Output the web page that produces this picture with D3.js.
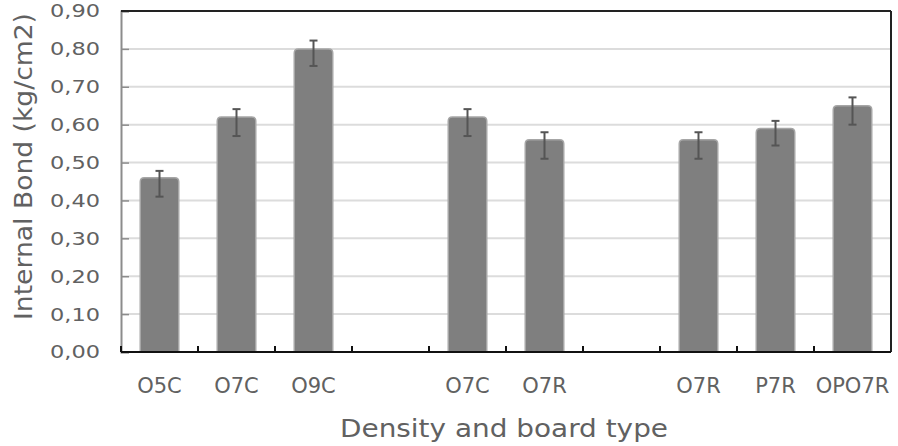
<!DOCTYPE html>
<html>
<head>
<meta charset="utf-8">
<script src="https://cdn.jsdelivr.net/npm/d3@7"></script>
<style>
  body { margin: 0; background: #fff; }
  svg { font-family: "DejaVu Sans", Verdana, sans-serif; }
</style>
</head>
<body>
<svg id="chart" width="898" height="446"></svg>
<script>
// Chart data (empty slots separate the groups)
const slots = ['s0', 's1', 's2', 's3', 's4', 's5', 's6', 's7', 's8', 's9'];
const labels = ['O5C', 'O7C', 'O9C', '', 'O7C', 'O7R', '', 'O7R', 'P7R', 'OPO7R'];
const values = [0.46, 0.62, 0.80, null, 0.62, 0.56, null, 0.56, 0.59, 0.65];
const errHigh = [0.478, 0.641, 0.822, null, 0.641, 0.58, null, 0.58, 0.61, 0.672];
const errLow = [0.41, 0.57, 0.755, null, 0.57, 0.51, null, 0.51, 0.545, 0.60];
const yTicks = [0, 0.1, 0.2, 0.3, 0.4, 0.5, 0.6, 0.7, 0.8, 0.9];

const margin = { top: 11, right: 7, bottom: 94, left: 121 };
const width = 898 - margin.left - margin.right;
const height = 446 - margin.top - margin.bottom;
const textColor = '#616161';

const svg = d3.select('#chart');
const g = svg.append('g').attr('transform', `translate(${margin.left},${margin.top})`);

const x = d3.scaleBand().domain(slots).range([0, width]).paddingInner(0).paddingOuter(0);
const y = d3.scaleLinear().domain([0, 0.9]).range([height, 0]);

const fmt = v => d3.format('.2f')(v).replace('.', ',');

// Gridlines
g.append('g')
    .selectAll('line')
    .data(yTicks.slice(1, -1))
    .enter().append('line')
    .attr('x1', 0).attr('x2', width)
    .attr('y1', d => y(d)).attr('y2', d => y(d))
    .attr('stroke', '#dcdcdc')
    .attr('stroke-width', 2);

// Y axis
const yAxis = g.append('g')
    .call(d3.axisRight(y).tickValues(yTicks).tickSize(8).tickFormat(''));
yAxis.select('.domain').attr('stroke', '#8c8c8c').attr('stroke-width', 2);
yAxis.selectAll('.tick line').attr('stroke', '#8c8c8c').attr('stroke-width', 1.5);

g.append('g')
    .selectAll('text')
    .data(yTicks)
    .enter().append('text')
    .attr('x', -71)
    .attr('y', d => y(d))
    .attr('dy', '0.36em')
    .attr('textLength', 50)
    .attr('lengthAdjust', 'spacingAndGlyphs')
    .style('font-size', '18px')
    .style('fill', textColor)
    .text(fmt);

// Top and right frame
g.append('line').attr('x1', 0).attr('x2', width).attr('y1', 0).attr('y2', 0)
    .attr('stroke', '#222').attr('stroke-width', 2);
g.append('line').attr('x1', width).attr('x2', width).attr('y1', 0).attr('y2', height)
    .attr('stroke', '#222').attr('stroke-width', 2);

// Bars
const data = slots.map((s, i) => ({ slot: s, label: labels[i], v: values[i], hi: errHigh[i], lo: errLow[i] }))
    .filter(d => d.v !== null);
const bw = x.bandwidth() * 0.5;

g.append('g')
    .selectAll('path')
    .data(data)
    .enter().append('path')
    .attr('d', d => {
        const x0 = x(d.slot) + (x.bandwidth() - bw) / 2;
        const y0 = y(d.v);
        const r = 4;
        return `M${x0},${height}V${y0 + r}Q${x0},${y0} ${x0 + r},${y0}H${x0 + bw - r}Q${x0 + bw},${y0} ${x0 + bw},${y0 + r}V${height}Z`;
    })
    .attr('fill', '#7f7f7f')
    .attr('stroke', '#a6a6a6')
    .attr('stroke-width', 1.5);

// Error bars
const err = g.append('g').selectAll('g').data(data).enter().append('g')
    .attr('stroke', '#555')
    .attr('stroke-width', 2);
err.append('line')
    .attr('x1', d => x(d.slot) + x.bandwidth() / 2)
    .attr('x2', d => x(d.slot) + x.bandwidth() / 2)
    .attr('y1', d => y(d.hi)).attr('y2', d => y(d.lo));
err.append('line')
    .attr('x1', d => x(d.slot) + x.bandwidth() / 2 - 4)
    .attr('x2', d => x(d.slot) + x.bandwidth() / 2 + 4)
    .attr('y1', d => y(d.hi)).attr('y2', d => y(d.hi));
err.append('line')
    .attr('x1', d => x(d.slot) + x.bandwidth() / 2 - 4)
    .attr('x2', d => x(d.slot) + x.bandwidth() / 2 + 4)
    .attr('y1', d => y(d.lo)).attr('y2', d => y(d.lo));

// X axis with ticks at slot boundaries
g.append('line').attr('x1', 0).attr('x2', width).attr('y1', height).attr('y2', height)
    .attr('stroke', '#111').attr('stroke-width', 2);
g.append('g')
    .selectAll('line')
    .data(slots)
    .enter().append('line')
    .attr('x1', d => x(d)).attr('x2', d => x(d))
    .attr('y1', height).attr('y2', height - 6)
    .attr('stroke', '#111').attr('stroke-width', 2);

g.append('g')
    .selectAll('text')
    .data(slots)
    .enter().append('text')
    .attr('x', d => x(d) + x.bandwidth() / 2)
    .attr('y', 393 - margin.top)
    .attr('text-anchor', 'middle')
    .style('font-size', '21px')
    .style('fill', textColor)
    .text((d, i) => labels[i]);

// Axis titles
svg.append('text')
    .attr('x', 340)
    .attr('y', 437)
    .attr('textLength', 328)
    .attr('lengthAdjust', 'spacingAndGlyphs')
    .style('font-size', '24px')
    .style('fill', textColor)
    .text('Density and board type');

svg.append('text')
    .attr('transform', 'translate(32,320) rotate(-90)')
    .attr('textLength', 307)
    .attr('lengthAdjust', 'spacingAndGlyphs')
    .style('font-size', '25px')
    .style('fill', textColor)
    .text('Internal Bond (kg/cm2)');
</script>
</body>
</html>
